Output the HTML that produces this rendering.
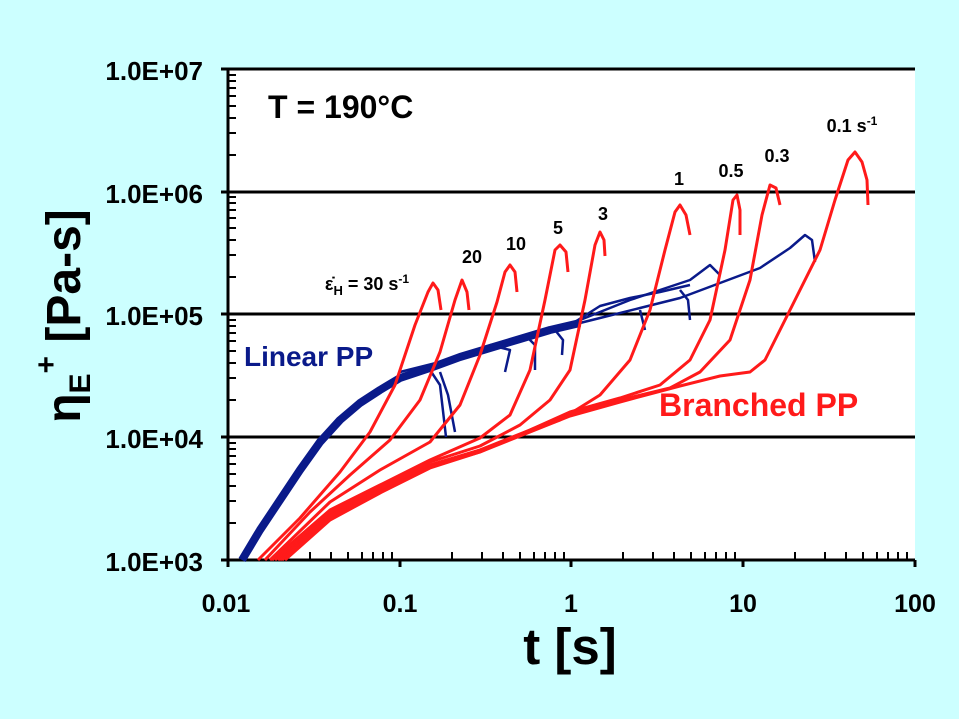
<!DOCTYPE html><html><head><style>body{margin:0;background:#ccffff;}svg{display:block}</style></head><body>
<svg width="959" height="719" viewBox="0 0 959 719" xmlns="http://www.w3.org/2000/svg" font-family="Liberation Sans, sans-serif" font-weight="bold">
<rect width="959" height="719" fill="#ccffff"/>
<rect x="228" y="69" width="687" height="491" fill="#fff"/>
<g stroke="#000" stroke-width="3">
<line x1="221" y1="69" x2="915" y2="69"/><line x1="221" y1="192" x2="915" y2="192"/><line x1="221" y1="314" x2="915" y2="314"/><line x1="221" y1="437" x2="915" y2="437"/><line x1="221" y1="560" x2="915" y2="560"/>
<line x1="228" y1="69" x2="228" y2="567"/>
<line x1="400" y1="560" x2="400" y2="567"/><line x1="571" y1="560" x2="571" y2="567"/><line x1="743" y1="560" x2="743" y2="567"/><line x1="915" y1="560" x2="915" y2="567"/>
</g>
<path stroke="#000" stroke-width="2" fill="none" d="
M228 523H236M228 501H236M228 486H236M228 474H236M228 464H236M228 456H236M228 449H236M228 443H236
M228 400H236M228 378H236M228 363H236M228 351H236M228 341H236M228 333H236M228 326H236M228 320H236
M228 277H236M228 255H236M228 240H236M228 228H236M228 218H236M228 210H236M228 203H236M228 197H236
M228 155H236M228 133H236M228 118H236M228 106H236M228 96H236M228 88H236M228 81H236M228 75H236
M280 560V552M310 560V552M331 560V552M348 560V552M362 560V552M373 560V552M383 560V552M392 560V552
M452 560V552M482 560V552M503 560V552M520 560V552M534 560V552M545 560V552M555 560V552M564 560V552
M623 560V552M653 560V552M674 560V552M691 560V552M705 560V552M716 560V552M726 560V552M735 560V552
M795 560V552M825 560V552M846 560V552M863 560V552M877 560V552M888 560V552M898 560V552M907 560V552"/>
<g font-size="26" text-anchor="end" fill="#000">
<text x="203" y="80">1.0E+07</text><text x="203" y="203">1.0E+06</text><text x="203" y="325">1.0E+05</text><text x="203" y="448">1.0E+04</text><text x="203" y="571">1.0E+03</text></g>
<g font-size="25" text-anchor="middle" fill="#000">
<text x="226" y="612">0.01</text><text x="400" y="612">0.1</text><text x="571" y="612">1</text><text x="743" y="612">10</text><text x="915" y="612">100</text></g>
<text x="570" y="664" font-size="51" text-anchor="middle">t [s]</text>
<text transform="translate(80,316) rotate(-90)" font-size="48" text-anchor="middle">η<tspan font-size="30" dy="10">E</tspan><tspan font-size="30" dy="-34">+</tspan><tspan dy="24"> [Pa-s]</tspan></text>
<text x="268" y="118" font-size="32">T = 190°C</text>
<g fill="none" stroke="#0a1a8a" stroke-linejoin="round">
<polyline stroke-width="8" points="242,560 260,530 280,500 300,470 320,442 340,420 360,403 380,390 400,378 430,368 460,357 490,348 520,339 550,330 580,323"/>
<polyline stroke-width="2.5" points="400,372 440,362 480,350 520,338 560,328 600,318 640,308 680,298 720,283 760,268 790,248 805,235 812,240 815,262"/>
<polyline stroke-width="2.5" points="560,328 600,312 630,300 660,290 690,280 710,265 720,275"/>
<polyline stroke-width="2.5" points="570,325 600,306 630,298 660,292 690,285"/>
<polyline stroke-width="2.5" points="510,340 525,335 535,345 535,370"/>
<polyline stroke-width="2.5" points="490,345 510,350 505,372"/>
<polyline stroke-width="2.5" points="430,370 440,385 446,437"/>
<polyline stroke-width="2.5" points="440,372 448,395 455,432"/>
<polyline stroke-width="2.5" points="555,330 563,340 562,355"/>
<polyline stroke-width="2.5" points="640,310 645,330"/>
<polyline stroke-width="2.5" points="680,290 688,300 690,320"/>
</g>
<g fill="none" stroke="#ff1a1a" stroke-width="3" stroke-linejoin="round">
<polyline points="258,560 300,518 340,472 370,432 395,385 415,325 428,292 433,283 438,290 441,310"/>
<polyline points="265,560 310,512 350,475 390,440 420,400 440,352 455,300 462,280 467,292 469,310"/>
<polyline points="270,560 330,502 380,470 430,442 460,405 480,355 497,302 505,272 510,265 515,272 517,292"/>
<polyline points="272,560 330,510 380,485 430,460 480,438 510,415 530,370 545,300 555,250 560,245 566,252 568,272"/>
<polyline points="275,560 330,512 380,487 430,462 480,446 520,425 550,400 570,370 585,300 595,245 600,232 604,240 605,256"/>
<polyline points="278,560 330,515 380,490 430,465 480,450 520,435 560,420 600,395 630,360 650,310 665,250 675,212 680,205 686,215 690,235"/>
<polyline points="280,560 330,516 380,490 430,465 480,450 530,430 570,412 620,398 660,385 690,360 710,320 725,250 733,200 737,195 740,210 740,235"/>
<polyline points="282,560 330,518 380,492 430,467 480,452 530,430 570,413 620,400 670,388 700,372 730,340 750,280 762,215 770,185 776,188 780,205"/>
<polyline points="285,560 330,520 380,493 430,468 480,452 530,432 570,416 620,402 680,386 720,376 750,372 765,360 780,330 800,290 820,250 835,200 848,160 855,152 862,162 867,180 868,205"/>
</g>
<g font-size="18" fill="#000" text-anchor="middle">
<text x="679" y="185">1</text><text x="731" y="177">0.5</text><text x="777" y="162">0.3</text><text x="852" y="132">0.1 s<tspan font-size="12" dy="-7">-1</tspan></text>
<text x="603" y="220">3</text><text x="558" y="234">5</text><text x="516" y="250">10</text><text x="472" y="263">20</text>
<text x="367" y="290">ε̇<tspan font-size="13" dy="5">H</tspan><tspan dy="-5"> = 30 s</tspan><tspan font-size="12" dy="-7">-1</tspan></text>
</g>
<text x="244" y="366" font-size="28" fill="#0a1a8a">Linear PP</text>
<text x="659" y="416" font-size="32" fill="#ff1a1a">Branched PP</text>
</svg></body></html>
